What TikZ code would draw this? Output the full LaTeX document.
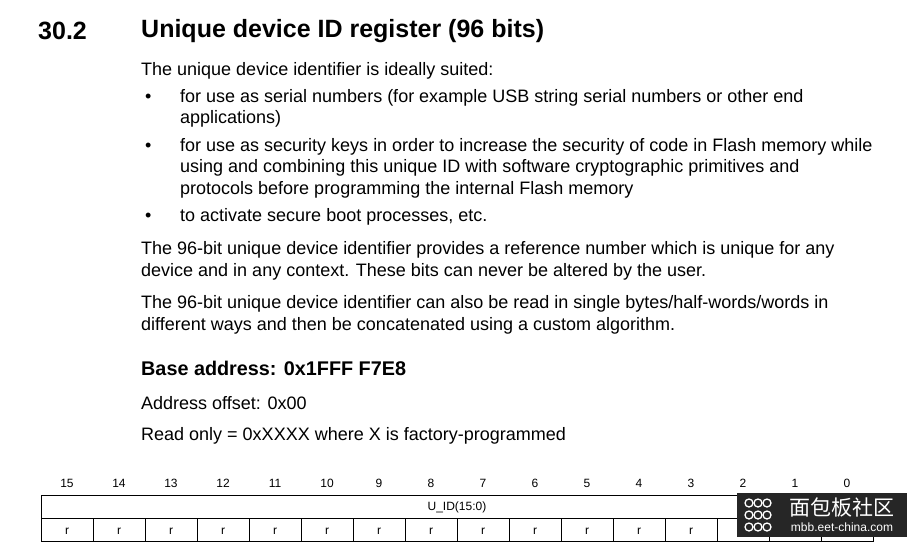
\documentclass[tikz,border=0pt]{standalone}
\usepackage{fontspec}
\setmainfont{Liberation Sans}
\newfontfamily\cjk{Noto Sans CJK SC}
\begin{document}
\begin{tikzpicture}[x=1pt,y=-1pt,
  body/.style={anchor=west,inner sep=0pt,font=\fontsize{18}{21}\selectfont},
  small/.style={inner sep=0pt,anchor=base,font=\fontsize{12}{13}\selectfont},
  cell/.style={draw=black,line width=0.6pt}]
\useasboundingbox (0,0) rectangle (916,547);
\fill[white] (0,0) rectangle (916,547);
\begin{scope}[yshift=-2pt]
\node[body,font=\fontsize{25}{28}\selectfont\bfseries] (num) at (38,29) {30.2};
\node[body,font=\fontsize{25}{28}\selectfont\bfseries] (title) at (141,29) {Unique device ID register (96 bits)};
\node[body] (l1) at (141,69) {The unique device identifier is ideally suited:};
\foreach \y in {96,145,215} \node[body] at (145,\y) {•};
\node[body] (b1) at (180,96) {for use as serial numbers (for example USB string serial numbers or other end};
\node[body] (b1b) at (180,117) {applications)};
\node[body] (b2) at (180,145) {for use as security keys in order to increase the security of code in Flash memory while};
\node[body] (b2b) at (180,166) {using and combining this unique ID with software cryptographic primitives and};
\node[body] (b2c) at (180,188) {protocols before programming the internal Flash memory};
\node[body] (b3) at (180,215) {to activate secure boot processes, etc.};
\node[body] (p1) at (141,248) {The 96-bit unique device identifier provides a reference number which is unique for any};
\node[body] (p1b) at (141,270) {device and in any context. These bits can never be altered by the user.};
\node[body] (p2) at (141,302) {The 96-bit unique device identifier can also be read in single bytes/half-words/words in};
\node[body] (p2b) at (141,324) {different ways and then be concatenated using a custom algorithm.};
\node[body,font=\fontsize{19.8}{23}\selectfont\bfseries] (base) at (141,366) {Base address: 0x1FFF F7E8};
\node[body] (off) at (141,401) {Address offset: 0x00};
\node[body] (ro) at (141,434) {Read only = 0xXXXX where X is factory-programmed};
\end{scope}
% register table
\foreach \i in {0,...,15}{
  \pgfmathtruncatemacro{\b}{15-\i}
  \node[small] at (67+52*\i,487.5) {\b};
  \draw[cell] (41+52*\i,518) rectangle (93+52*\i,541);
}
\foreach \i in {0,...,12}{
  \node[small] at (67+52*\i,534.5) {r};
}
\draw[cell] (41,495) rectangle (873,518);
\node[small] (uid) at (457,510.5) {U\_ID(15:0)};
% watermark
\fill[black!85] (737,493) rectangle (907,537);
\foreach \a in {0,1,2} \foreach \c in {0,1,2}
  \draw[white,line width=1.3pt] (749+\c*9,503+\a*12) circle (4);
\node[inner sep=0pt,text=white,font=\cjk\fontsize{21}{22}\selectfont] (wm1) at (842,507) {面包板社区};
\node[inner sep=0pt,text=white,font=\fontsize{12}{13}\selectfont] (wm2) at (842,527) {mbb.eet-china.com};
\end{tikzpicture}
\end{document}
